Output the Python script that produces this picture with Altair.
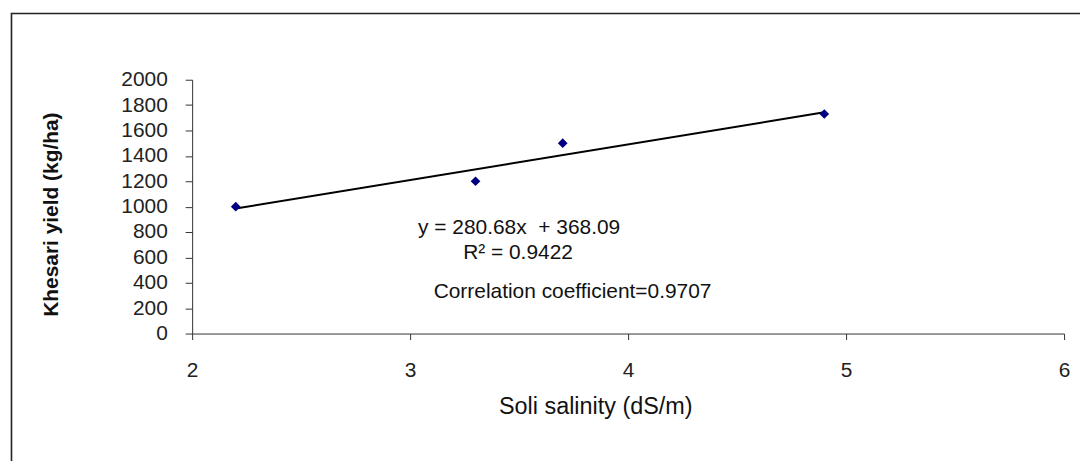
import altair as alt
import pandas as pd

# data
salinity = [2.2, 3.3, 3.7, 4.9]
yield_kg = [1000, 1200, 1500, 1730]

x_ticks = [2, 3, 4, 5, 6]
y_ticks = [0, 200, 400, 600, 800, 1000, 1200, 1400, 1600, 1800, 2000]

ann_text = ["y = 280.68x\u00a0 + 368.09", "R\u00b2 = 0.9422", "Correlation coefficient=0.9707"]
ann_x = [3.50, 3.495, 3.745]
ann_y = [829, 633, 327]

df = pd.DataFrame({"x": salinity, "y": yield_kg})
ann = pd.DataFrame({"t": ann_text, "x": ann_x, "y": ann_y})

FONT = "Liberation Sans"
W, H = 876, 255

xs = alt.Scale(domain=[2, 6], nice=False)
ys = alt.Scale(domain=[0, 2000], nice=False)

xaxis = alt.Axis(values=x_ticks, tickCount=len(x_ticks) + 1, format="d", grid=False, tickSize=6,
                 labelPadding=20, labelFontSize=21, labelFont=FONT, labelColor="#222",
                 domainColor="#333", tickColor="#333", labelFlush=False, labelOverlap=False,
                 title="Soli salinity (dS/m)", titleFont=FONT, titleFontSize=23.5,
                 titleFontWeight="normal", titleColor="#111",
                 titleX=405, titleY=73, titleBaseline="middle")
yaxis = alt.Axis(values=y_ticks, tickCount=len(y_ticks) + 1, format="d", grid=False, tickSize=7,
                 labelPadding=18, labelFontSize=21, labelFont=FONT, labelColor="#222",
                 domainColor="#333", tickColor="#333", labelOverlap=False, labelFlush=False,
                 title="Khesari yield (kg/ha)", titleFont=FONT, titleFontSize=21,
                 titleFontWeight="bold", titleColor="#111",
                 titleX=-141, titleY=135, titleBaseline="middle")

base = alt.Chart(df)

trend = base.transform_regression("x", "y").mark_line(color="#000", strokeWidth=2).encode(
    x=alt.X("x:Q", scale=xs, axis=xaxis),
    y=alt.Y("y:Q", scale=ys, axis=yaxis),
)

pts = base.mark_point(shape="diamond", filled=True, color="#000080", size=95, opacity=1).encode(
    x=alt.X("x:Q", scale=xs, axis=xaxis),
    y=alt.Y("y:Q", scale=ys, axis=yaxis),
)

texts = alt.Chart(ann).mark_text(font=FONT, fontSize=21, color="#111", align="center",
                                 baseline="middle").encode(
    x=alt.X("x:Q", scale=xs, axis=xaxis),
    y=alt.Y("y:Q", scale=ys, axis=yaxis),
    text="t:N",
)

frame = alt.Chart(pd.DataFrame({"k": [0]})).mark_rect(
    fill=None, stroke="#222", strokeWidth=1.6).encode(
    x=alt.value(-181.5), x2=alt.value(1000), y=alt.value(-66.5), y2=alt.value(500)
)

chart = alt.layer(frame, trend, pts, texts).properties(
    width=W, height=H,
    autosize=alt.AutoSizeParams(type="none"),
    padding={"left": 185, "top": 71, "right": 16, "bottom": 127},
    background="white",
).configure_view(stroke=None)

chart.save("out.html", embed_options={"renderer": "svg", "actions": False})
